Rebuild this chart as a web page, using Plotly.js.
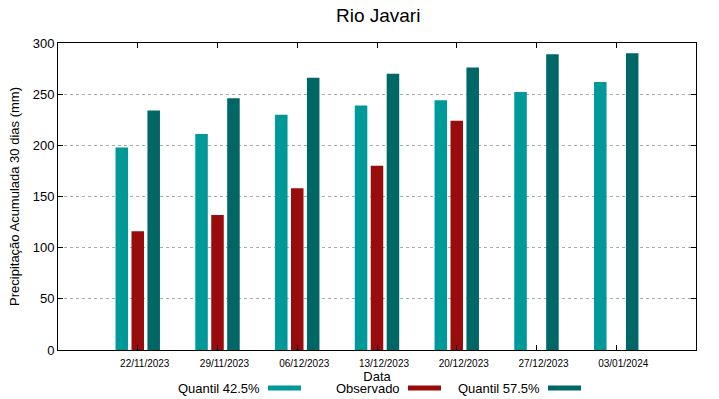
<!DOCTYPE html>
<html>
<head>
<meta charset="utf-8">
<script src="https://cdn.plot.ly/plotly-3.0.1.min.js"></script>
<style>html,body{margin:0;padding:0;background:#fff}#chart{width:719px;height:399px}</style>
</head>
<body>
<div id="chart"></div>
<script>
const dates = ["22/11/2023","29/11/2023","06/12/2023","13/12/2023","20/12/2023","27/12/2023","03/01/2024"];
const positions = [0,1,2,3,4,5,6];
const quantil425 = [198, 211, 230, 239, 244, 252, 262];
const observado = [116, 132, 158, 180, 224, null, null];
const quantil575 = [234, 246, 266, 270, 276, 289, 290];
const seriesNames = ["Quantil 42.5%", "Observado", "Quantil 57.5%"];
const seriesColors = ["#009999", "#990c0c", "#006666"];
const yTicks = [0,50,100,150,200,250,300];

const font = "Liberation Sans, Arial, sans-serif";
const series = [quantil425, observado, quantil575];
const traces = series.map((vals, i) => ({
  type: "bar", x: positions, y: vals, name: seriesNames[i],
  marker: {color: seriesColors[i], line: {width: 0}}, showlegend: false
}));

// manual legend (gnuplot style: label left of swatch)
const legendTextRight = [262, 402, 542];
const annotations = seriesNames.map((n, i) => ({
  xref: "paper", yref: "paper", x: (legendTextRight[i] - 58) / 638, y: (350 - 388) / 307,
  xanchor: "right", yanchor: "middle", text: n, showarrow: false,
  font: {family: font, size: 13, color: "#000"}
}));
const shapes = seriesColors.map((c, i) => ({
  type: "rect", xref: "paper", yref: "paper",
  x0: (legendTextRight[i] + 6 - 58) / 638, x1: (legendTextRight[i] + 39 - 58) / 638,
  y0: (350 - 385.5) / 307, y1: (350 - 390.5) / 307,
  fillcolor: c, line: {width: 0}
}));

const layout = {
  width: 719, height: 399,
  margin: {l: 58, r: 23, t: 43, b: 49},
  paper_bgcolor: "#fff", plot_bgcolor: "#fff",
  font: {family: font, color: "#000"},
  title: {text: "Rio Javari", font: {family: font, size: 19, color: "#000"}, x: 0.526, xanchor: "center", y: 0.962, yanchor: "middle"},
  barmode: "group", bargap: 0.4, bargroupgap: 0.215,
  xaxis: {
    range: [-1, 7], tickvals: positions, ticktext: dates,
    ticks: "inside", ticklen: 5, tickcolor: "#000",
    showline: true, linecolor: "#000", linewidth: 1, mirror: "ticks",
    showgrid: false, zeroline: false,
    tickfont: {family: font, size: 10, color: "#000"},
    ticklabelshift: 7, ticklabelstandoff: 4,
    title: {text: "Data", font: {family: font, size: 13, color: "#000"}, standoff: 2}
  },
  yaxis: {
    range: [0, 300], tickvals: yTicks,
    ticks: "inside", ticklen: 5, tickcolor: "#000",
    showline: true, linecolor: "#000", linewidth: 1, mirror: "ticks",
    showgrid: true, gridcolor: "#aaaaaa", griddash: "dot", gridwidth: 1,
    zeroline: false,
    tickfont: {family: font, size: 13, color: "#000"},
    title: {text: "Precipitação Acumulada 30 dias (mm)", font: {family: font, size: 13, color: "#000"}, standoff: 10}
  },
  annotations: annotations,
  shapes: shapes
};

Plotly.newPlot("chart", traces, layout, {displayModeBar: false, staticPlot: true});
</script>
</body>
</html>
